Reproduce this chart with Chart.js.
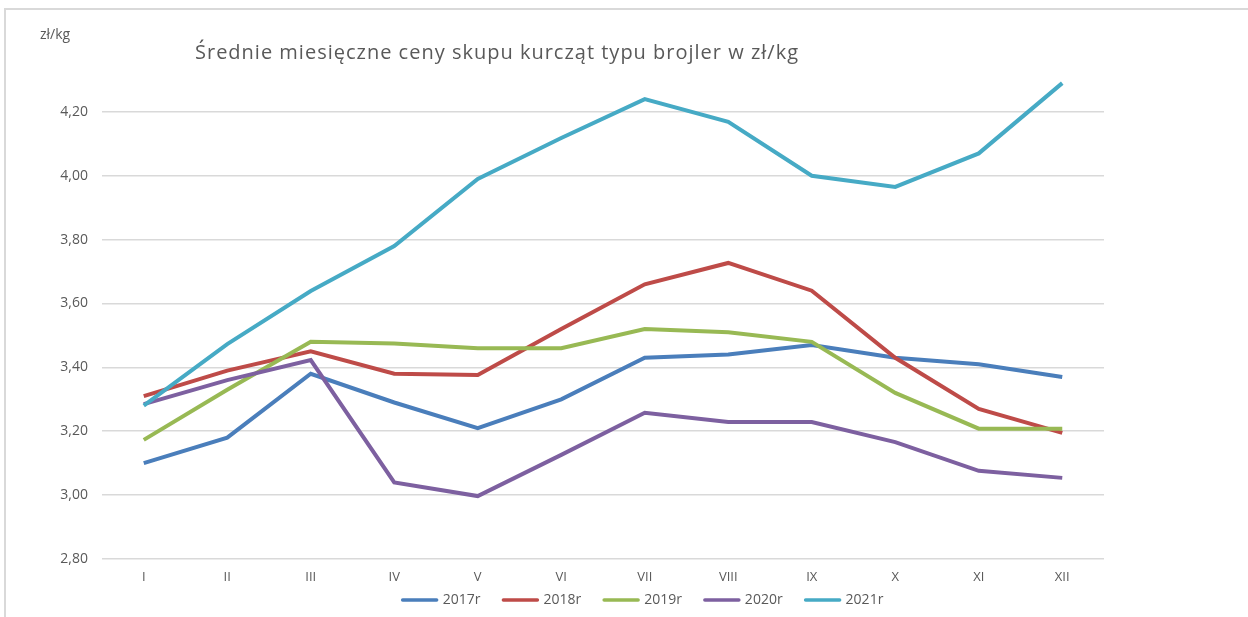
<!DOCTYPE html>
<html>
<head>
<meta charset="utf-8">
<script src="https://cdn.jsdelivr.net/npm/chart.js@4"></script>
<style>
  body { margin: 0; background: #fff; }
  #frame { position: absolute; left: 4px; top: 8px; width: 1260px; height: 640px;
           border-left: 2px solid #d9d9d9; border-top: 2px solid #d9d9d9; }
  #wrap { position: absolute; left: 0; top: 0; width: 1248px; height: 617px; }
</style>
</head>
<body>
<div id="frame"></div>
<div id="wrap"><canvas id="chart"></canvas></div>
<script>
var months = ["I", "II", "III", "IV", "V", "VI", "VII", "VIII", "IX", "X", "XI", "XII"];

var y2017 = [3.10, 3.18, 3.38, 3.29, 3.21, 3.30, 3.43, 3.44, 3.47, 3.43, 3.41, 3.37];
var y2018 = [3.31, 3.39, 3.45, 3.38, 3.376, 3.52, 3.66, 3.727, 3.64, 3.43, 3.27, 3.195];
var y2019 = [3.173, 3.33, 3.48, 3.475, 3.46, 3.46, 3.52, 3.51, 3.48, 3.32, 3.208, 3.208];
var y2020 = [3.285, 3.36, 3.423, 3.04, 2.997, 3.126, 3.258, 3.229, 3.229, 3.166, 3.076, 3.054];
var y2021 = [3.28, 3.473, 3.639, 3.78, 3.99, 4.118, 4.24, 4.169, 4.0, 3.965, 4.07, 4.29];

var yTicks = [2.8, 3.0, 3.2, 3.4, 3.6, 3.8, 4.0, 4.2];

var seriesNames = ["2017r", "2018r", "2019r", "2020r", "2021r"];
var seriesData = [y2017, y2018, y2019, y2020, y2021];
var colors = ["#4a7ebb", "#be4b48", "#98b954", "#7d60a0", "#46aac5"];

var textColor = "#595959";
var fontName = "'Open Sans', 'Noto Sans', sans-serif";

// title, unit label and legend
const textPlugin = {
  id: "texts",
  afterDraw(chart) {
    var ctx = chart.ctx;
    ctx.save();
    ctx.fillStyle = textColor;
    ctx.textBaseline = "middle";
    ctx.textAlign = "left";
    ctx.font = "20px " + fontName;
    ctx.letterSpacing = "1px";
    ctx.fillText("Średnie miesięczne ceny skupu kurcząt typu brojler w zł/kg", 195, 53);
    ctx.letterSpacing = "0px";
    ctx.font = "14px " + fontName;
    ctx.fillText("zł/kg", 40, 35);

    // legend: line sample, text, gap
    var sw = 38, gapText = 4, gapItem = 21, ly = 600;
    var items = chart.data.datasets.map(ds => ({ ds: ds, w: ctx.measureText(ds.label).width }));
    var total = items.reduce((s, it) => s + sw + gapText + it.w, 0) + gapItem * (items.length - 1);
    var x = 642 - total / 2;
    items.forEach(it => {
      ctx.strokeStyle = it.ds.borderColor;
      ctx.lineWidth = 3.5;
      ctx.lineCap = "round";
      ctx.beginPath();
      ctx.moveTo(x + 2, ly);
      ctx.lineTo(x + sw - 2, ly);
      ctx.stroke();
      ctx.fillStyle = textColor;
      ctx.fillText(it.ds.label, x + sw + gapText, ly);
      x += sw + gapText + it.w + gapItem;
    });
    ctx.restore();
  }
};

const datasets = seriesNames.map((name, i) => ({
  label: name,
  data: seriesData[i],
  borderColor: colors[i],
  backgroundColor: colors[i],
  borderWidth: 4,
  pointRadius: 0,
  tension: 0,
  order: seriesNames.length - i,
  clip: false
}));

const config = {
  type: "line",
  data: { labels: months, datasets: datasets },
  options: {
    responsive: true,
    maintainAspectRatio: false,
    animation: false,
    layout: { padding: { top: 48, right: 0, bottom: 0, left: 36 } },
    plugins: {
      title: { display: false },
      tooltip: { enabled: false },
      legend: { display: false }
    },
    scales: {
      x: {
        offset: true,
        grid: { display: false, drawTicks: false },
        border: { display: false },
        ticks: { color: textColor, font: { family: fontName, size: 13 }, padding: 10 },
        afterFit: (scale) => { scale.height = 58; }
      },
      y: {
        min: 2.8,
        max: 4.4,
        afterBuildTicks: (scale) => {
          scale.ticks = yTicks.map(v => ({ value: v }));
        },
        grid: { color: "#d9d9d9", lineWidth: 1.5, drawTicks: false },
        border: { display: false },
        ticks: {
          color: textColor,
          font: { family: fontName, size: 14 },
          padding: 14,
          callback: (v) => v.toFixed(2).replace(".", ",")
        },
        afterFit: (scale) => { scale.width = 66; }
      },
      // empty right margin
      yRight: {
        position: "right",
        display: true,
        grid: { display: false, drawTicks: false },
        border: { display: false },
        ticks: { display: false },
        afterFit: (scale) => { scale.width = 144; }
      }
    }
  },
  plugins: [textPlugin]
};

let Charts = new Chart("chart", config);
</script>
</body>
</html>
